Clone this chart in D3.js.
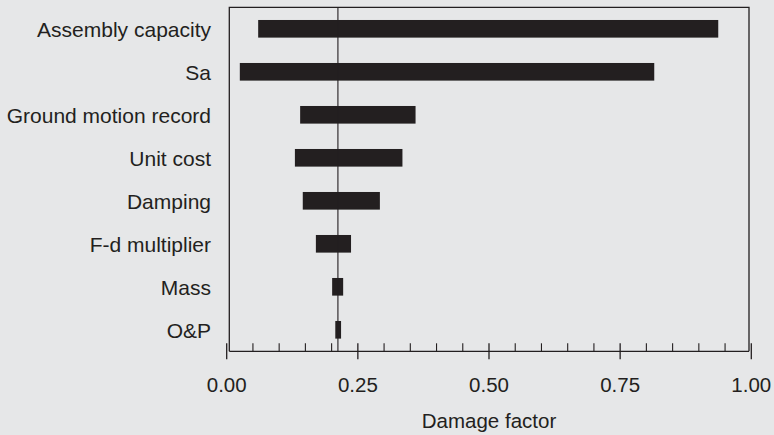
<!DOCTYPE html>
<html>
<head>
<meta charset="utf-8">
<script src="https://cdn.jsdelivr.net/npm/d3@7"></script>
<style>
  html, body { margin: 0; padding: 0; background: #e6e7e8; }
  svg { display: block; }
  text { font-family: "Liberation Sans", Arial, Helvetica, sans-serif; fill: #231f20; }
</style>
</head>
<body>
<script>
const categories = ["Assembly capacity", "Sa", "Ground motion record", "Unit cost", "Damping", "F-d multiplier", "Mass", "O&P"];
const lowValues  = [0.060, 0.025, 0.140, 0.130, 0.145, 0.170, 0.201, 0.207];
const highValues = [0.937, 0.815, 0.360, 0.335, 0.292, 0.237, 0.222, 0.218];
const baseValue = 0.212;
const majorTicks = [0, 0.25, 0.5, 0.75, 1.0];
const tickLabels = ["0.00", "0.25", "0.50", "0.75", "1.00"];
const minorTicks = d3.range(0, 1.0001, 0.05);
const xTitle = "Damage factor";

const W = 774, H = 435;
const ink = "#231f20";
const svg = d3.select("body").append("svg").attr("width", W).attr("height", H);
svg.append("rect").attr("width", W).attr("height", H).attr("fill", "#e6e7e8");

const x = d3.scaleLinear().domain([0, 1]).range([226.7, 751.3]);
const plotTop = 7.3, plotBottom = 351.3;
const boxLeft = 229.3, boxRight = 749;
const y = d3.scaleBand().domain(categories).range([plotTop, plotBottom])
  .paddingInner(0.59).paddingOuter(0.295);

const data = categories.map((c, i) => ({ c, lo: lowValues[i], hi: highValues[i] }));

// plot box (left, top, right)
svg.append("path")
  .attr("d", `M${boxLeft},${plotBottom}V${plotTop}H${boxRight}V${plotBottom}`)
  .attr("fill", "none").attr("stroke", ink).attr("stroke-width", 1.3);

// bars
svg.append("g").selectAll("rect").data(data).join("rect")
  .attr("x", d => x(d.lo))
  .attr("width", d => x(d.hi) - x(d.lo))
  .attr("y", d => y(d.c))
  .attr("height", y.bandwidth())
  .attr("fill", ink);

// base line
svg.append("line")
  .attr("x1", x(baseValue)).attr("x2", x(baseValue))
  .attr("y1", plotTop).attr("y2", plotBottom)
  .attr("stroke", ink).attr("stroke-width", 1.1);

// category labels
svg.append("g").selectAll("text").data(categories).join("text")
  .attr("x", 211)
  .attr("y", d => y(d) + y.bandwidth() / 2 + 8.5)
  .attr("text-anchor", "end")
  .attr("font-size", 21)
  .text(d => d);

// x axis line
svg.append("line")
  .attr("x1", boxLeft).attr("x2", boxRight)
  .attr("y1", plotBottom).attr("y2", plotBottom)
  .attr("stroke", ink).attr("stroke-width", 1.3);

// minor ticks
svg.append("g").selectAll("line").data(minorTicks.filter(v => !majorTicks.some(m => Math.abs(m - v) < 1e-6))).join("line")
  .attr("x1", d => x(d)).attr("x2", d => x(d))
  .attr("y1", plotBottom - 8).attr("y2", plotBottom)
  .attr("stroke", ink).attr("stroke-width", 1.1);

// major ticks
svg.append("g").selectAll("line").data(majorTicks).join("line")
  .attr("x1", d => x(d)).attr("x2", d => x(d))
  .attr("y1", plotBottom - 8).attr("y2", plotBottom + 8)
  .attr("stroke", ink).attr("stroke-width", 1.3);

// tick labels
svg.append("g").selectAll("text").data(majorTicks).join("text")
  .attr("x", d => x(d))
  .attr("y", 391.5)
  .attr("text-anchor", "middle")
  .attr("font-size", 20.5)
  .text((d, i) => tickLabels[i]);

// axis title
svg.append("text")
  .attr("x", x(0.5))
  .attr("y", 428)
  .attr("text-anchor", "middle")
  .attr("font-size", 20.5)
  .text(xTitle);
</script>
</body>
</html>
